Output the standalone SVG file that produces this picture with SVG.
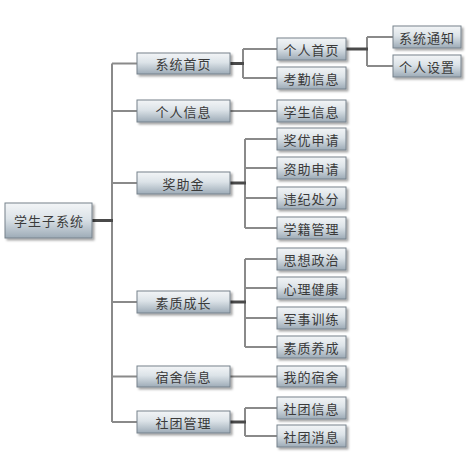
<svg xmlns="http://www.w3.org/2000/svg" width="469" height="464" viewBox="0 0 469 464">
<defs>
<linearGradient id="g" x1="0" y1="0" x2="0" y2="1">
<stop offset="0" stop-color="#f3f5f7"/>
<stop offset="0.45" stop-color="#dce3e8"/>
<stop offset="1" stop-color="#9dabb7"/>
</linearGradient>
<filter id="sh" x="-10%" y="-20%" width="130%" height="160%">
<feDropShadow dx="2" dy="2" stdDeviation="1" flood-color="#000" flood-opacity="0.35"/>
</filter>
</defs>
<style>
.b{fill:url(#g);stroke:#76828c;stroke-width:1;filter:url(#sh)}
text{font-family:"Noto Sans CJK SC","Noto Sans CJK JP",sans-serif;font-size:13px;fill:#3a3a3a;text-anchor:middle;dominant-baseline:central;letter-spacing:1px}
.r{font-size:13px;letter-spacing:1px}
.c{fill:none;stroke:#8a8a8a;stroke-width:2}
.d{fill:none;stroke:#4a4a4a;stroke-width:3}
</style>
<rect width="469" height="464" fill="#fff"/>
<g id="connectors">
<path class="c" d="M112 63.5V422M112 63.5H137M112 111H137M112 183H137M112 302H137M112 376.5H137M112 422H137"/>
<path class="d" d="M92 220.5H113"/>
<path class="c" d="M243 49V78M243 49H277M243 78H277"/>
<path class="d" d="M230 63.5H244"/>
<path class="c" d="M230 111H277"/>
<path class="c" d="M245 139V228M245 139H277M245 168H277M245 198H277M245 228H277"/>
<path class="d" d="M230 183H246"/>
<path class="c" d="M245 259V347M245 259H277M245 288H277M245 318H277M245 347H277"/>
<path class="d" d="M230 302H246"/>
<path class="c" d="M230 376.5H277"/>
<path class="c" d="M245 408V436M245 408H277M245 436H277"/>
<path class="d" d="M230 422H246"/>
<path class="c" d="M367 37V66M367 37H393M367 66H393"/>
<path class="d" d="M346 49H368"/>
</g>
<g id="root"><rect class="b" x="5" y="203" width="87" height="35"/><text class="r" x="49" y="220.5">学生子系统</text></g>
<g id="n1"><rect class="b" x="137" y="53" width="93" height="21"/><text x="183.5" y="63.5">系统首页</text></g>
<g id="n2"><rect class="b" x="137" y="100" width="93" height="22"/><text x="183.5" y="111">个人信息</text></g>
<g id="n3"><rect class="b" x="137" y="172" width="93" height="22"/><text x="183.5" y="183">奖助金</text></g>
<g id="n4"><rect class="b" x="137" y="291" width="93" height="22"/><text x="183.5" y="302">素质成长</text></g>
<g id="n5"><rect class="b" x="137" y="366" width="93" height="21"/><text x="183.5" y="376.5">宿舍信息</text></g>
<g id="n6"><rect class="b" x="137" y="411" width="93" height="22"/><text x="183.5" y="422">社团管理</text></g>
<g id="m1"><rect class="b" x="277" y="38" width="69" height="22"/><text x="311.5" y="49">个人首页</text></g>
<g id="m2"><rect class="b" x="277" y="67" width="69" height="22"/><text x="311.5" y="78">考勤信息</text></g>
<g id="m3"><rect class="b" x="277" y="100" width="69" height="22"/><text x="311.5" y="111">学生信息</text></g>
<g id="m4"><rect class="b" x="277" y="128" width="69" height="22"/><text x="311.5" y="139">奖优申请</text></g>
<g id="m5"><rect class="b" x="277" y="157" width="69" height="22"/><text x="311.5" y="168">资助申请</text></g>
<g id="m6"><rect class="b" x="277" y="187" width="69" height="22"/><text x="311.5" y="198">违纪处分</text></g>
<g id="m7"><rect class="b" x="277" y="217" width="69" height="22"/><text x="311.5" y="228">学籍管理</text></g>
<g id="m8"><rect class="b" x="277" y="248" width="69" height="22"/><text x="311.5" y="259">思想政治</text></g>
<g id="m9"><rect class="b" x="277" y="277" width="69" height="22"/><text x="311.5" y="288">心理健康</text></g>
<g id="m10"><rect class="b" x="277" y="307" width="69" height="22"/><text x="311.5" y="318">军事训练</text></g>
<g id="m11"><rect class="b" x="277" y="336" width="69" height="22"/><text x="311.5" y="347">素质养成</text></g>
<g id="m12"><rect class="b" x="277" y="366" width="69" height="21"/><text x="311.5" y="376.5">我的宿舍</text></g>
<g id="m13"><rect class="b" x="277" y="397" width="69" height="22"/><text x="311.5" y="408">社团信息</text></g>
<g id="m14"><rect class="b" x="277" y="425" width="69" height="22"/><text x="311.5" y="436">社团消息</text></g>
<g id="k1"><rect class="b" x="393" y="26" width="68" height="22"/><text x="427" y="37">系统通知</text></g>
<g id="k2"><rect class="b" x="393" y="55" width="68" height="22"/><text x="427" y="66">个人设置</text></g>
</svg>
